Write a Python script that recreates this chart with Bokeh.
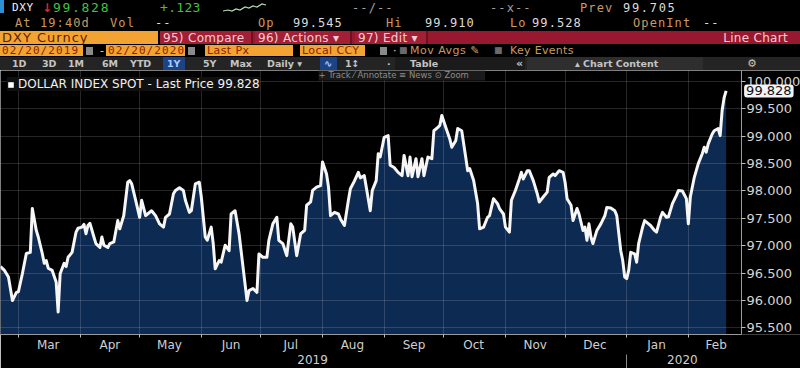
import pandas as pd
from bokeh.plotting import figure
from bokeh.models import (Range1d, FixedTicker, NumeralTickFormatter, DatetimeTickFormatter,
                          DatetimeAxis, Legend, LegendItem, Label, Div, ColumnDataSource)
from bokeh.layouts import column
from bokeh.embed import file_html
from bokeh.resources import INLINE

# ---------------- data ----------------
dates = [
    "2019-02-20", "2019-02-22", "2019-02-24", "2019-02-26", "2019-02-28",
    "2019-03-01", "2019-03-03", "2019-03-05", "2019-03-07", "2019-03-08", "2019-03-10", "2019-03-11",
    "2019-03-13", "2019-03-14", "2019-03-15", "2019-03-16", "2019-03-18", "2019-03-20", "2019-03-21",
    "2019-03-22", "2019-03-24", "2019-03-25", "2019-03-26", "2019-03-28", "2019-03-30", "2019-03-31",
    "2019-04-02", "2019-04-03", "2019-04-04", "2019-04-05", "2019-04-06", "2019-04-08", "2019-04-09",
    "2019-04-11", "2019-04-12", "2019-04-13", "2019-04-15", "2019-04-16", "2019-04-18", "2019-04-20",
    "2019-04-21", "2019-04-23", "2019-04-25", "2019-04-26", "2019-04-27", "2019-04-29",
    "2019-05-01", "2019-05-02", "2019-05-04", "2019-05-05", "2019-05-07", "2019-05-09", "2019-05-11",
    "2019-05-13", "2019-05-14", "2019-05-16", "2019-05-18", "2019-05-19", "2019-05-21", "2019-05-23",
    "2019-05-24", "2019-05-26", "2019-05-27", "2019-05-29", "2019-05-31",
    "2019-06-01", "2019-06-03", "2019-06-04", "2019-06-06", "2019-06-07", "2019-06-08", "2019-06-10",
    "2019-06-11", "2019-06-13", "2019-06-15", "2019-06-16", "2019-06-18", "2019-06-20", "2019-06-22",
    "2019-06-24", "2019-06-25", "2019-06-27", "2019-06-29", "2019-06-30",
    "2019-07-02", "2019-07-04", "2019-07-05", "2019-07-07", "2019-07-09", "2019-07-10", "2019-07-12",
    "2019-07-14", "2019-07-16", "2019-07-17", "2019-07-19", "2019-07-21", "2019-07-23", "2019-07-24",
    "2019-07-26", "2019-07-27", "2019-07-29", "2019-07-31",
    "2019-08-01", "2019-08-03", "2019-08-04", "2019-08-05", "2019-08-07", "2019-08-09", "2019-08-10",
    "2019-08-12", "2019-08-14", "2019-08-15", "2019-08-17", "2019-08-19", "2019-08-20", "2019-08-22",
    "2019-08-23", "2019-08-25", "2019-08-26", "2019-08-28", "2019-08-29", "2019-08-30",
    "2019-09-01", "2019-09-03", "2019-09-04", "2019-09-06", "2019-09-08", "2019-09-10", "2019-09-11",
    "2019-09-13", "2019-09-14", "2019-09-15", "2019-09-17", "2019-09-18", "2019-09-20", "2019-09-21",
    "2019-09-23", "2019-09-25", "2019-09-26", "2019-09-28", "2019-09-29", "2019-09-30",
    "2019-10-02", "2019-10-04", "2019-10-05", "2019-10-07", "2019-10-08", "2019-10-10", "2019-10-12",
    "2019-10-13", "2019-10-14", "2019-10-16", "2019-10-18", "2019-10-19", "2019-10-21", "2019-10-23",
    "2019-10-24", "2019-10-26", "2019-10-28", "2019-10-29", "2019-10-31",
    "2019-11-01", "2019-11-03", "2019-11-04", "2019-11-06", "2019-11-08", "2019-11-09", "2019-11-10",
    "2019-11-12", "2019-11-13", "2019-11-15", "2019-11-17", "2019-11-18", "2019-11-20", "2019-11-22",
    "2019-11-23", "2019-11-25", "2019-11-26", "2019-11-28", "2019-11-30",
    "2019-12-01", "2019-12-02", "2019-12-04", "2019-12-05", "2019-12-07", "2019-12-08", "2019-12-10",
    "2019-12-11", "2019-12-12", "2019-12-13", "2019-12-14", "2019-12-15", "2019-12-17", "2019-12-19",
    "2019-12-21", "2019-12-22", "2019-12-24", "2019-12-26", "2019-12-27", "2019-12-29", "2019-12-30",
    "2019-12-31",
    "2020-01-01", "2020-01-02", "2020-01-03", "2020-01-05", "2020-01-06", "2020-01-07", "2020-01-09",
    "2020-01-10", "2020-01-12", "2020-01-13", "2020-01-15", "2020-01-16", "2020-01-18", "2020-01-19",
    "2020-01-21", "2020-01-22", "2020-01-24", "2020-01-26", "2020-01-27", "2020-01-29", "2020-01-31",
    "2020-02-01", "2020-02-02", "2020-02-04", "2020-02-06", "2020-02-08", "2020-02-09", "2020-02-10",
    "2020-02-11", "2020-02-13", "2020-02-14", "2020-02-16", "2020-02-17", "2020-02-18", "2020-02-19",
    "2020-02-20",
]
last_price = [
    96.62, 96.55, 96.43, 96.00, 96.15,
    96.16, 96.49, 96.86, 96.88, 97.68, 97.28, 97.16,
    96.86, 96.68, 96.73, 96.59, 96.55, 96.34, 95.79,
    96.49, 96.68, 96.62, 96.79, 96.88, 97.25, 97.32,
    97.34, 97.39, 97.22, 97.37, 97.41, 97.16, 97.04,
    96.97, 97.16, 97.01, 96.97, 97.04, 97.07, 97.46,
    97.31, 97.55, 98.16, 98.19, 98.13, 97.83,
    97.52, 97.83, 97.55, 97.58, 97.64, 97.55, 97.40,
    97.34, 97.52, 97.58, 97.95, 98.01, 98.06, 98.01,
    97.83, 97.61, 97.64, 98.13, 98.16,
    97.89, 97.16, 97.10, 97.34, 97.04, 96.58, 96.73,
    96.70, 97.01, 96.91, 97.58, 97.64, 97.22, 96.61,
    96.00, 96.18, 96.22, 96.15, 96.85,
    96.79, 96.79, 97.10, 97.40, 97.52, 97.10, 97.04,
    96.82, 97.40, 97.34, 96.82, 97.22, 97.28, 97.74,
    97.80, 98.01, 98.07, 98.10,
    98.53, 98.31, 98.07, 97.55, 97.61, 97.58, 97.49,
    97.37, 97.83, 98.04, 98.18, 98.34, 98.24, 98.28,
    98.07, 97.64, 98.01, 98.19, 98.68, 98.62,
    98.98, 99.01, 98.47, 98.43, 98.34, 98.28, 98.65,
    98.28, 98.62, 98.26, 98.59, 98.26, 98.59, 98.28,
    98.62, 98.59, 99.10, 99.16, 99.20, 99.38,
    99.16, 98.95, 98.80, 98.92, 99.14, 99.10, 98.62,
    98.37, 98.41, 98.19, 97.77, 97.31, 97.34, 97.52,
    97.55, 97.86, 97.77, 97.68, 97.58,
    97.34, 97.25, 97.83, 98.01, 98.22, 98.34, 98.22,
    98.37, 98.37, 98.19, 97.95, 97.80, 97.89, 97.98,
    98.25, 98.31, 98.28, 98.37, 98.34,
    98.16, 97.86, 97.74, 97.46, 97.68, 97.58, 97.28,
    97.34, 97.10, 97.40, 97.16, 97.04, 97.28, 97.40,
    97.55, 97.70, 97.69, 97.64, 97.55, 96.91, 96.73,
    96.43,
    96.40, 96.55, 96.88, 96.85, 96.70, 97.04, 97.34,
    97.46, 97.40, 97.37, 97.28, 97.25, 97.52, 97.61,
    97.52, 97.53, 97.77, 97.92, 98.01, 98.00, 97.86,
    97.40, 97.89, 98.25, 98.50, 98.68, 98.80, 98.71,
    98.86, 99.04, 99.10, 99.14, 99.01, 99.47, 99.705,
    99.828,
]
y_ticks = [95.5, 96.0, 96.5, 97.0, 97.5, 98.0, 98.5, 99.0, 99.5, 100.0]
month_starts = ["2019-03-01", "2019-04-01", "2019-05-01", "2019-06-01", "2019-07-01", "2019-08-01",
                "2019-09-01", "2019-10-01", "2019-11-01", "2019-12-01", "2020-01-01", "2020-02-01"]
month_label_dates = ["2019-03-16", "2019-04-16", "2019-05-16", "2019-06-16", "2019-07-16", "2019-08-16",
                     "2019-09-16", "2019-10-16", "2019-11-16", "2019-12-16", "2020-01-16", "2020-02-15"]
year_label_dates = ["2019-07-27", "2020-01-29"]
year_breaks = ["2020-01-01"]
x_start = "2019-02-20"
axis_date = "2020-02-27 18:00"      # where the value axis sits
x_end = "2020-03-28 10:00"          # room for the value labels on the right
y_lo, y_hi = 95.38, 100.20
series_name = "DOLLAR INDEX SPOT - Last Price"


def ms(d):
    return pd.Timestamp(d).value / 1e6


# ---------------- header (terminal bars) ----------------
W = 800
MONO = "DejaVu Sans Mono"
SANS = "DejaVu Sans"
GREEN = "#45c043"
TAN = "#c99a62"
LIGHT = "#dcdcdc"
GREY = "#a0a0a0"
ORANGE = "#f3a332"
CRIMSON = "#98192f"
PINK = "#f7cdd3"


def item(x, text, color, size=11, family=SANS, weight="normal", ls=0, right=None):
    pos = f"right:{right}px;" if right is not None else f"left:{x}px;"
    return (f'<span style="position:absolute;{pos}top:0;height:100%;display:flex;align-items:center;'
            f"white-space:nowrap;color:{color};font-family:'{family}';font-size:{size}px;"
            f'font-weight:{weight};letter-spacing:{ls}px;line-height:1;">{text}</span>')


def box(x, w, bg, inner="", extra=""):
    return (f'<div style="position:absolute;left:{x}px;width:{w}px;top:0;height:100%;'
            f'background:{bg};{extra}">{inner}</div>')


def row(top, h, bg, content):
    return (f'<div style="position:absolute;left:0;top:{top}px;width:{W}px;height:{h}px;'
            f'background:{bg};overflow:hidden;">{content}</div>')


spark = ('<svg style="position:absolute;left:223px;top:2px" width="44" height="11">'
         '<polyline points="0,9 5,8 9,9 13,7 17,8 22,5 26,6 30,4 34,5 39,2 43,3" '
         'fill="none" stroke="#b8dcb8" stroke-width="1.2"/></svg>')

M12 = dict(size=12, family=MONO, ls=1.1)
r1 = (box(0, 4, "#2e8fd6", extra="height:13px;")
      + item(12, "DXY", "#f2f2f2", 11, MONO, ls=0.6) + item(42, "↓", "#e3262a", 12, SANS, "bold")
      + item(53, "99.828", GREEN, 13, MONO, ls=1.7) + item(160, "+.123", GREEN, 13, MONO, ls=0.3)
      + spark + item(352, "--/--", GREY, **M12) + item(490, "--x--", GREY, **M12)
      + item(580, "Prev", TAN, **M12) + item(623, "99.705", LIGHT, 12, MONO, ls=1.7))
r2 = (item(15, "At 19:40d", TAN, **M12) + item(110, "Vol", TAN, **M12)
      + item(155, "--", LIGHT, **M12) + item(258, "Op", TAN, **M12)
      + item(293, "99.545", LIGHT, **M12) + item(386, "Hi", TAN, **M12)
      + item(425, "99.910", LIGHT, **M12) + item(510, "Lo", TAN, **M12)
      + item(532, "99.528", LIGHT, **M12) + item(633, "OpenInt", TAN, **M12)
      + item(703, "--", LIGHT, **M12))
sep = "border-right:2px solid #6e1020;"
r3 = (box(0, 158, ORANGE, item(2, "DXY Curncy", "#5a2400", 13, SANS, ls=1.0))
      + box(160, W - 160, CRIMSON,
            box(0, 93, "#a31f36", item(3, "95) Compare", PINK, 12, SANS, ls=0.3), sep)
            + box(95, 97, "#a31f36", item(3, "96) Actions ▾", PINK, 12, SANS, ls=0.3), sep)
            + box(195, 73, "#a31f36", item(3, "97) Edit ▾", PINK, 12, SANS, ls=0.3), sep)
            + item(0, "Line Chart", PINK, 12, SANS, ls=0.3, right=12)))
ic = "top:2px;height:8px;"
DT = "#8a2300"
r4 = (box(0, 83, ORANGE, item(2, "02/20/2019", DT, 11, MONO, ls=1.1))
      + box(86, 7, "#8a8a8a", extra=ic) + item(100, "-", LIGHT, 11)
      + box(106, 79, ORANGE, item(2, "02/20/2020", DT, 11, MONO, ls=1.1))
      + box(188, 7, "#8a8a8a", extra=ic)
      + box(205, 88, ORANGE, item(2, "Last Px", DT, 11, SANS, ls=0.4))
      + box(300, 65, ORANGE, item(2, "Local CCY", DT, 11, SANS, ls=0.4))
      + box(380, 7, "#8a8a8a", extra=ic) + item(393, "·", LIGHT, 11)
      + item(399, "■", "#6a6a6a", 9) + item(410, "Mov Avgs ✎", TAN, 11, SANS, ls=0.5)
      + item(494, "■", "#6a6a6a", 9) + item(510, "Key Events", TAN, 11, SANS, ls=0.3))
T5 = "#c4c4c4"
B = dict(size=9.5, family=SANS, weight="bold")
r5 = (box(395, 130, "#1b1b1b") + box(527, 176, "#2e2e2e")
      + item(12, "1D", T5, **B) + item(42, "3D", T5, **B)
      + item(68, "1M", T5, **B) + item(102, "6M", T5, **B)
      + item(130, "YTD", T5, **B)
      + box(163, 22, "#1b4386", item(4, "1Y", "#a8c8ff", **B))
      + item(203, "5Y", T5, **B) + item(230, "Max", T5, **B)
      + item(267, "Daily ▾", T5, **B)
      + box(320, 17, "#1b4386", item(4, "∿", "#a8c8ff", 10, SANS, "bold"))
      + item(345, "1↕", T5, **B) + item(387, "·", T5, **B)
      + item(410, "Table", T5, **B)
      + item(516, "«", T5, 11, SANS, "bold")
      + item(575, "▴ Chart Content", T5, **B)
      + item(747, "⚙", T5, 11, SANS))

header_html = (f'<div style="position:relative;width:{W}px;height:70px;background:#000;overflow:hidden;">'
               + row(0, 15, "#000", r1) + row(15, 15, "#000", r2) + row(31, 13, "#000", r3)
               + row(45, 11, "#000", r4) + row(57, 13, "#242424", r5) + "</div>")
header = Div(text=header_html, width=W, height=70, margin=0)

# ---------------- chart ----------------
src = ColumnDataSource(dict(date=pd.to_datetime(dates), price=last_price))

p = figure(width=W, height=298, x_axis_type="datetime", y_axis_location="right",
           x_range=Range1d(pd.Timestamp(x_start), pd.Timestamp(x_end)),
           y_range=Range1d(y_lo, y_hi),
           output_backend="svg", toolbar_location=None,
           background_fill_color="black", border_fill_color="black", outline_line_color=None,
           min_border_left=0, min_border_top=0, min_border_right=0, min_border_bottom=34)

p.varea(x="date", y1=y_lo - 1, y2="price", source=src, fill_color="#0c2a52", fill_alpha=1)
p.line(x="date", y="price", source=src, line_color="#f6f6f6", line_width=3, line_join="round")

# grid drawn over the fill, under the legend
for g in (p.xgrid[0], p.ygrid[0]):
    g.level = "annotation"
    g.grid_line_color = "#ffffff"
    g.grid_line_alpha = 0.15
    g.grid_line_width = 1
p.xgrid[0].ticker = FixedTicker(ticks=[ms(d) for d in month_starts])
p.ygrid[0].ticker = FixedTicker(ticks=y_ticks)
try:
    p.ygrid[0].cross_bounds = (ms(x_start), ms(axis_date))
except Exception:
    pass

LAB_FONT = SANS
xa = p.xaxis[0]
xa.ticker = FixedTicker(ticks=[ms(d) for d in month_label_dates],
                        minor_ticks=[ms(d) for d in month_starts])
fmt_b = "%b"
xa.formatter = DatetimeTickFormatter(days=fmt_b, months=fmt_b, years=fmt_b, hours=fmt_b,
                                     hourmin=fmt_b, minutes=fmt_b, boundary_scaling=False)
xa.bounds = (ms(x_start), ms(axis_date))
xa.axis_line_color = "#9a9a9a"
xa.major_tick_line_color = None
xa.major_tick_out = 0
xa.major_tick_in = 0
xa.minor_tick_out = 3
xa.minor_tick_in = 0
xa.minor_tick_line_color = "#bcbcbc"
xa.major_label_standoff = 0
xa.major_label_text_color = "#cfcfcf"
xa.major_label_text_font = LAB_FONT
xa.major_label_text_font_size = "12px"

fmt_y = "%Y"
year_axis = DatetimeAxis(
    ticker=FixedTicker(ticks=[ms(d) for d in year_label_dates], minor_ticks=[ms(d) for d in year_breaks]),
    formatter=DatetimeTickFormatter(days=fmt_y, months=fmt_y, years=fmt_y, hours=fmt_y,
                                    hourmin=fmt_y, minutes=fmt_y, boundary_scaling=False),
    axis_line_color=None, major_tick_line_color=None, major_tick_out=0, major_tick_in=0,
    minor_tick_out=18, minor_tick_in=0, minor_tick_line_color="#8a8a8a",
    major_label_standoff=-18, major_label_text_color="#cfcfcf",
    major_label_text_font=LAB_FONT, major_label_text_font_size="12px")
p.add_layout(year_axis, "below")

# value axis sits inside the frame at a fixed date, labels to its right
ya = p.yaxis[0]
ya.fixed_location = ms(axis_date)
ya.ticker = FixedTicker(ticks=y_ticks)
ya.formatter = NumeralTickFormatter(format="0.000")
ya.axis_line_color = "#9a9a9a"
ya.major_tick_line_color = "#bcbcbc"
ya.major_tick_out = 4
ya.major_tick_in = 0
ya.minor_tick_line_color = None
ya.major_label_standoff = 1
ya.major_label_text_color = "#d4d4d4"
ya.major_label_text_font = LAB_FONT
ya.major_label_text_font_size = "13px"

# legend with a white square swatch (zero-size quad at the first point)
swatch = p.quad(left=[dates[0]], right=[dates[0]], top=[last_price[0]], bottom=[last_price[0]],
                fill_color="white", line_color=None)
swatch.data_source.data["left"] = pd.to_datetime([dates[0]])
swatch.data_source.data["right"] = pd.to_datetime([dates[0]])
legend = Legend(items=[LegendItem(label=f"{series_name} {last_price[-1]:.3f}", renderers=[swatch])],
                location="top_left", margin=7, padding=3, spacing=0,
                glyph_width=7, glyph_height=7, label_height=12, label_standoff=4,
                label_text_font=SANS, label_text_font_size="12px", label_text_color="#f0f0f0",
                background_fill_color="#101010", background_fill_alpha=1, border_line_color=None)
p.add_layout(legend)

# chart toolbar strip inside the plot
p.add_layout(Label(x=ms("2019-07-30"), y=100.11, text="+ Track   ⁄ Annotate   ≡ News   ⊙ Zoom",
                   text_font=SANS, text_font_size="8.5px", text_color="#8c8c8c", text_baseline="middle",
                   background_fill_color="#1a1a1a", background_fill_alpha=1))

# last price tag on the value axis
tag_kw = dict(x=ms(dates[-1]), y=last_price[-1], x_offset=18, text=f"{last_price[-1]:.3f}",
              text_font=LAB_FONT, text_font_size="13px", text_color="#111111",
              text_baseline="middle", text_align="left",
              background_fill_color="#f4f4f4", background_fill_alpha=1)
try:
    tag = Label(**tag_kw, padding=2, border_radius=3)
except Exception:
    tag = Label(**tag_kw)
p.add_layout(tag)

layout = column(header, p, spacing=0)
open("out.html", "w").write(file_html(layout, INLINE, title="DXY"))
